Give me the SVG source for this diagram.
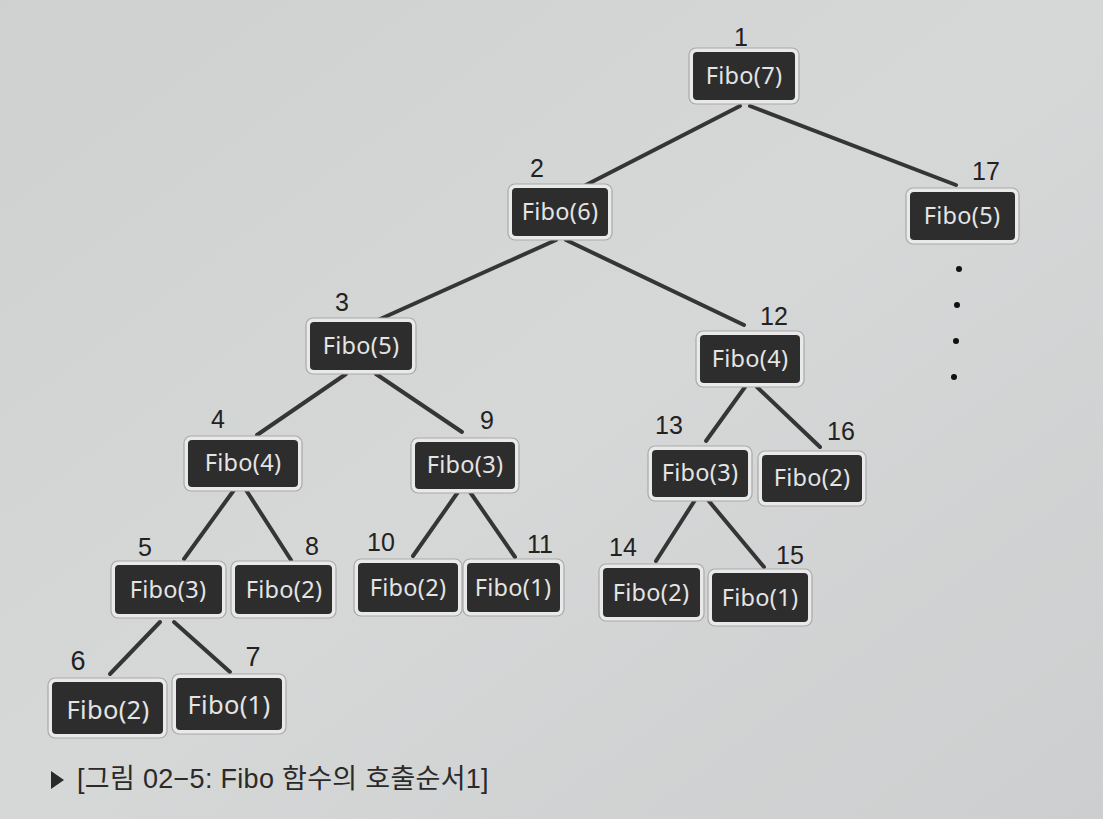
<svg xmlns="http://www.w3.org/2000/svg" width="1103" height="819" viewBox="0 0 1103 819">
<defs>
<linearGradient id="bg" x1="0" y1="0" x2="1" y2="1">
<stop offset="0" stop-color="#cfd1d1"/>
<stop offset="0.5" stop-color="#d6d7d7"/>
<stop offset="1" stop-color="#cdcecf"/>
</linearGradient>
<style>
.frame{fill:#e9e9e9;stroke:#a9a9a9;stroke-width:1.2}
.box{fill:#2d2d2d}
.lbl{font-family:"Noto Sans","DejaVu Sans",sans-serif;font-size:23.5px;fill:#e4e4e4;text-anchor:middle;letter-spacing:0.3px}
.num{font-family:"Liberation Sans",Arial,sans-serif;font-size:25px;fill:#222;text-anchor:middle}
.edge{stroke:#353535;stroke-width:4;stroke-linecap:round;fill:none}
.cap{font-family:"Liberation Sans","Noto Sans CJK KR",sans-serif;font-size:27px;fill:#2a2a2a;letter-spacing:0.3px}
</style>
</defs>
<rect width="1103" height="819" fill="url(#bg)"/>

<g id="connectors">
<line class="edge" x1="740" y1="106" x2="584" y2="186"/>
<line class="edge" x1="750" y1="106" x2="956" y2="185"/>
<line class="edge" x1="556" y1="240" x2="378" y2="320"/>
<line class="edge" x1="566" y1="240" x2="744" y2="325"/>
<line class="edge" x1="346" y1="374" x2="257" y2="435"/>
<line class="edge" x1="376" y1="374" x2="462" y2="432"/>
<line class="edge" x1="745" y1="387" x2="706" y2="441"/>
<line class="edge" x1="757" y1="387" x2="820" y2="447"/>
<line class="edge" x1="234" y1="490" x2="184" y2="559"/>
<line class="edge" x1="246" y1="490" x2="291" y2="560"/>
<line class="edge" x1="458" y1="492" x2="413" y2="556"/>
<line class="edge" x1="470" y1="492" x2="515" y2="557"/>
<line class="edge" x1="695" y1="500" x2="656" y2="561"/>
<line class="edge" x1="708" y1="500" x2="764" y2="567"/>
<line class="edge" x1="160" y1="622" x2="110" y2="674"/>
<line class="edge" x1="174" y1="622" x2="230" y2="672"/>
</g>

<g id="n1"><rect class="frame" x="689" y="48" width="110" height="56" rx="7"/><rect class="box" x="693" y="52" width="102" height="48" rx="4"/><text class="lbl" x="744" y="84">Fibo(7)</text><text class="num" x="741" y="46">1</text></g>
<g id="n2"><rect class="frame" x="508" y="184" width="104" height="56" rx="7"/><rect class="box" x="512" y="188" width="96" height="48" rx="4"/><text class="lbl" x="560" y="220">Fibo(6)</text><text class="num" x="537" y="177">2</text></g>
<g id="n17"><rect class="frame" x="906" y="188" width="113" height="56" rx="7"/><rect class="box" x="910" y="192" width="105" height="48" rx="4"/><text class="lbl" x="962" y="224">Fibo(5)</text><text class="num" x="986" y="180">17</text></g>
<g id="n3"><rect class="frame" x="306" y="318" width="110" height="56" rx="7"/><rect class="box" x="310" y="322" width="102" height="48" rx="4"/><text class="lbl" x="361" y="354">Fibo(5)</text><text class="num" x="342" y="311">3</text></g>
<g id="n12"><rect class="frame" x="696" y="331" width="108" height="56" rx="7"/><rect class="box" x="700" y="335" width="100" height="48" rx="4"/><text class="lbl" x="750" y="367">Fibo(4)</text><text class="num" x="774" y="325">12</text></g>
<g id="n4"><rect class="frame" x="184" y="436" width="118" height="55" rx="7"/><rect class="box" x="188" y="440" width="110" height="47" rx="4"/><text class="lbl" x="243" y="471">Fibo(4)</text><text class="num" x="218" y="428">4</text></g>
<g id="n9"><rect class="frame" x="411" y="438" width="108" height="55" rx="7"/><rect class="box" x="415" y="442" width="100" height="47" rx="4"/><text class="lbl" x="465" y="473">Fibo(3)</text><text class="num" x="487" y="429">9</text></g>
<g id="n13"><rect class="frame" x="648" y="446" width="104" height="55" rx="7"/><rect class="box" x="652" y="450" width="96" height="47" rx="4"/><text class="lbl" x="700" y="481">Fibo(3)</text><text class="num" x="669" y="434">13</text></g>
<g id="n16"><rect class="frame" x="758" y="451" width="108" height="55" rx="7"/><rect class="box" x="762" y="455" width="100" height="47" rx="4"/><text class="lbl" x="812" y="486">Fibo(2)</text><text class="num" x="841" y="440">16</text></g>
<g id="n5"><rect class="frame" x="111" y="561" width="115" height="57" rx="7"/><rect class="box" x="115" y="565" width="107" height="49" rx="4"/><text class="lbl" x="168" y="598">Fibo(3)</text><text class="num" x="145" y="556">5</text></g>
<g id="n8"><rect class="frame" x="231" y="561" width="105" height="57" rx="7"/><rect class="box" x="235" y="565" width="97" height="49" rx="4"/><text class="lbl" x="284" y="598">Fibo(2)</text><text class="num" x="312" y="555">8</text></g>
<g id="n10"><rect class="frame" x="354" y="559" width="108" height="57" rx="7"/><rect class="box" x="358" y="563" width="100" height="49" rx="4"/><text class="lbl" x="408" y="596">Fibo(2)</text><text class="num" x="381" y="551">10</text></g>
<g id="n11"><rect class="frame" x="463" y="559" width="101" height="57" rx="7"/><rect class="box" x="467" y="563" width="93" height="49" rx="4"/><text class="lbl" x="513" y="596">Fibo(1)</text><text class="num" x="540" y="553">11</text></g>
<g id="n14"><rect class="frame" x="599" y="564" width="105" height="57" rx="7"/><rect class="box" x="603" y="568" width="97" height="49" rx="4"/><text class="lbl" x="651" y="601">Fibo(2)</text><text class="num" x="623" y="556">14</text></g>
<g id="n15"><rect class="frame" x="708" y="569" width="104" height="57" rx="7"/><rect class="box" x="712" y="573" width="96" height="49" rx="4"/><text class="lbl" x="760" y="606">Fibo(1)</text><text class="num" x="790" y="564">15</text></g>
<g id="n6"><rect class="frame" x="48" y="678" width="119" height="60" rx="7"/><rect class="box" x="52" y="682" width="111" height="52" rx="4"/><text class="lbl" x="108" y="719" style="font-size:25.5px">Fibo(2)</text><text class="num" x="78" y="670" style="font-size:27px">6</text></g>
<g id="n7"><rect class="frame" x="172" y="674" width="114" height="60" rx="7"/><rect class="box" x="176" y="678" width="106" height="52" rx="4"/><text class="lbl" x="229" y="714" style="font-size:25.5px">Fibo(1)</text><text class="num" x="253" y="666" style="font-size:27px">7</text></g>

<g id="dots" fill="#111">
<circle cx="959" cy="269" r="3"/>
<circle cx="957" cy="305" r="3"/>
<circle cx="956" cy="341" r="3"/>
<circle cx="954" cy="377" r="3"/>
</g>

<g id="caption">
<polygon points="51,771 51,789 64,780" fill="#2a2a2a"/>
<text class="cap" x="77" y="788">[그림 02−5: Fibo 함수의 호출순서1]</text>
</g>
</svg>
